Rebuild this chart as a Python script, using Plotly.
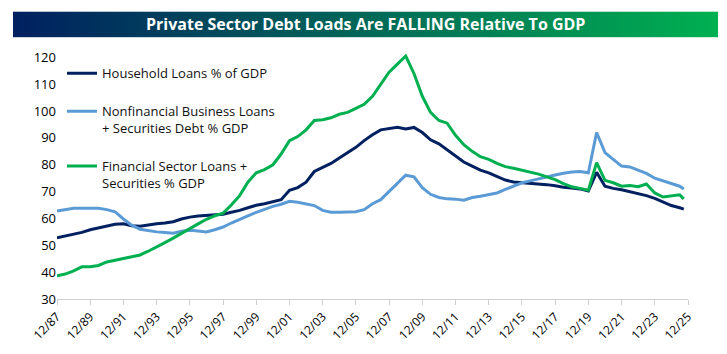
import plotly.graph_objects as go
import base64

dates = [
    "1987-12-31", "1988-06-30", "1988-12-31", "1989-06-30", "1989-12-31", "1990-06-30", "1990-12-31",
    "1991-06-30", "1991-12-31", "1992-06-30", "1992-12-31", "1993-06-30", "1993-12-31", "1994-06-30",
    "1994-12-31", "1995-06-30", "1995-12-31", "1996-06-30", "1996-12-31", "1997-06-30", "1997-12-31",
    "1998-06-30", "1998-12-31", "1999-06-30", "1999-12-31", "2000-06-30", "2000-12-31", "2001-06-30",
    "2001-12-31", "2002-06-30", "2002-12-31", "2003-06-30", "2003-12-31", "2004-06-30", "2004-12-31",
    "2005-06-30", "2005-12-31", "2006-06-30", "2006-12-31", "2007-06-30", "2007-12-31", "2008-06-30",
    "2008-12-31", "2009-06-30", "2009-12-31", "2010-06-30", "2010-12-31", "2011-06-30", "2011-12-31",
    "2012-06-30", "2012-12-31", "2013-06-30", "2013-12-31", "2014-06-30", "2014-12-31", "2015-06-30",
    "2015-12-31", "2016-06-30", "2016-12-31", "2017-06-30", "2017-12-31", "2018-06-30", "2018-12-31",
    "2019-06-30", "2019-12-31", "2020-06-30", "2020-12-31", "2021-06-30", "2021-12-31", "2022-06-30",
    "2022-12-31", "2023-06-30", "2023-12-31", "2024-06-30", "2024-12-31", "2025-06-30", "2025-09-30",
]

household = [
    52.8, 53.5, 54.3, 54.8, 55.8, 56.5, 57.3, 57.8, 58.0, 57.3, 57.1, 57.6, 58.0, 58.3,
    58.8, 59.8, 60.5, 60.9, 61.2, 61.3, 61.6, 62.3, 63.0, 64.0, 64.9, 65.5, 66.3, 67.0,
    70.5, 71.5, 73.5, 77.5, 79.0, 80.5, 82.5, 84.5, 86.5, 89.0, 91.2, 93.0, 93.5, 94.0,
    93.3, 93.9, 92.0, 89.3, 87.8, 85.5, 83.0, 81.0, 79.5, 78.0, 77.0, 75.8, 74.3, 73.6,
    73.4, 73.2, 73.0, 72.6, 72.2, 71.6, 71.3, 71.0, 70.2, 77.2, 72.0, 71.2, 70.7, 70.0,
    69.3, 68.5, 67.5, 66.3, 64.8, 64.0, 63.5,
]

business = [
    62.8, 63.3, 63.8, 63.8, 63.8, 63.8, 63.3, 62.5, 59.8, 57.5, 56.0, 55.5, 55.0, 54.8,
    54.5, 55.2, 55.6, 55.3, 55.0, 55.8, 56.8, 58.3, 59.8, 61.0, 62.3, 63.5, 64.5, 65.3,
    66.4, 66.0, 65.3, 64.8, 63.0, 62.3, 62.3, 62.5, 62.5, 63.3, 65.5, 67.0, 70.0, 73.1,
    76.1, 75.5, 71.5, 69.0, 67.8, 67.3, 67.2, 66.8, 67.8, 68.3, 68.8, 69.5, 70.8, 72.0,
    73.3, 74.0, 74.8, 75.5, 76.2, 76.8, 77.3, 77.5, 77.0, 92.0, 84.5, 82.0, 79.5, 79.2,
    78.0, 76.8, 75.0, 74.0, 73.0, 72.0, 71.0,
]

financial = [
    38.6, 39.3, 40.5, 42.0, 42.0, 42.5, 43.8, 44.5, 45.2, 45.8, 46.4, 47.8, 49.3, 51.0,
    52.7, 54.5, 56.4, 58.0, 59.7, 61.0, 62.0, 65.0, 68.5, 73.5, 77.0, 78.2, 80.0, 84.0,
    89.0, 90.5, 93.0, 96.5, 96.8, 97.5, 98.8, 99.5, 101.0, 102.5, 105.5, 110.0, 114.5, 117.5,
    120.5, 114.0, 105.5, 99.5, 96.5, 95.5, 91.0, 87.5, 85.0, 83.0, 82.0, 80.5, 79.3, 78.7,
    78.0, 77.2, 76.5, 75.5, 74.5, 73.0, 71.8, 71.2, 70.5, 80.8, 74.2, 73.3, 72.0, 72.3,
    71.8, 72.8, 69.5, 68.0, 68.3, 68.8, 67.3,
]

tick_dates = [f"{y}-12-31" for y in range(1987, 2026, 2)]
tick_labels = [f"12/{str(y)[2:]}" for y in range(1987, 2026, 2)]

names = [
    "Household Loans % of GDP",
    "Nonfinancial Business Loans<br>+ Securities Debt % GDP",
    "Financial Sector Loans +<br>Securities % GDP",
]
colors = ["#002060", "#5B9BD5", "#00B050"]

fig = go.Figure()
for i, (nm, vals, col) in enumerate(zip(names, [household, business, financial], colors)):
    fig.add_trace(go.Scatter(
        x=dates, y=vals, mode="lines", name=nm,
        line=dict(color=col, width=3), legendgroup=f"g{i}",
    ))

svg = ('<svg xmlns="http://www.w3.org/2000/svg" width="705" height="26" preserveAspectRatio="none">'
       '<defs><linearGradient id="g" x1="0" y1="0" x2="1" y2="0">'
       '<stop offset="0" stop-color="#002060"/><stop offset="1" stop-color="#00B050"/>'
       '</linearGradient></defs><rect width="705" height="26" fill="url(#g)"/></svg>')
src = "data:image/svg+xml;base64," + base64.b64encode(svg.encode()).decode()

# plot-area pixel frame: value 30 at y=299, value 120 at y=57
L, R, B = 57, 688, 299
Y0, Y1 = 30, 122
PX_PER_UNIT = 242 / 90
T = B - (Y1 - Y0) * PX_PER_UNIT
W = R - L
H = B - T

def px(x):
    return (x - L) / W

def py(y):
    return (B - y) / H

fig.add_layout_image(dict(
    source=src, xref="paper", yref="paper",
    x=px(13), y=py(11), sizex=705 / W, sizey=26 / H,
    xanchor="left", yanchor="top", sizing="stretch", layer="below",
))

fig.add_annotation(
    text="<b>Private Sector Debt Loads Are FALLING Relative To GDP</b>",
    xref="paper", yref="paper", x=px(365.5), y=py(24),
    xanchor="center", yanchor="middle", showarrow=False,
    font=dict(family="Open Sans", size=16, color="white"),
)

fig.update_layout(
    width=727, height=354,
    margin=dict(l=L, r=727 - R, t=T, b=354 - B),
    paper_bgcolor="white", plot_bgcolor="white",
    font=dict(family="Open Sans", size=12, color="#000000"),
    showlegend=True,
    legend=dict(
        x=px(62), y=py(58), xanchor="left", yanchor="top",
        bgcolor="rgba(0,0,0,0)", font=dict(size=13, color="#111111"),
        traceorder="grouped", tracegroupgap=18, valign="top",
    ),
    xaxis=dict(
        type="date", range=["1987-12-31", "2025-12-31"],
        tickvals=tick_dates, ticktext=tick_labels, tickangle=-45,
        showgrid=False, showline=True, linecolor="#d0d0d0", linewidth=1,
        ticks="outside", ticklen=5, tickcolor="#d0d0d0",
        tickfont=dict(size=12), zeroline=False,
    ),
    yaxis=dict(
        range=[Y0, Y1], tickvals=list(range(30, 121, 10)), showgrid=False, showline=False,
        zeroline=False, ticks="", tickfont=dict(size=13),
    ),
)

fig.write_html("out.html")
